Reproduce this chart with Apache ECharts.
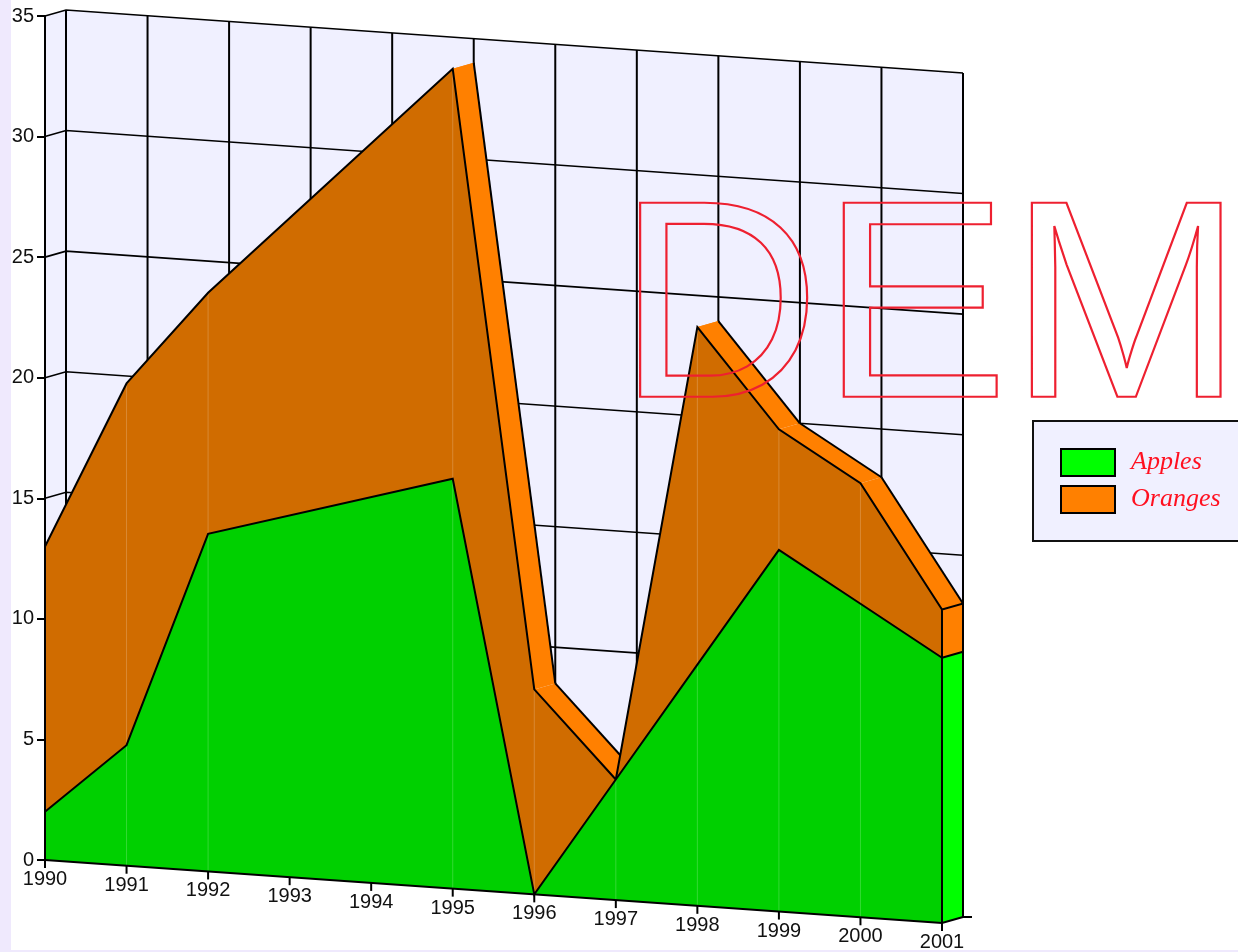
<!DOCTYPE html>
<html>
<head>
<meta charset="utf-8">
<title>Apples and Oranges</title>
<style>
  html, body { margin: 0; padding: 0; background: #ffffff; }
  #chart { width: 1238px; height: 952px; }
</style>
<script src="https://cdn.jsdelivr.net/npm/echarts@6/dist/echarts.min.js"></script>
</head>
<body>
<div id="chart"></div>
<script>
// Sampled years and stacked series values
const years = [1990, 1991, 1992, 1995, 1996, 1997, 1998, 1999, 2000, 2001];
const apples = [2, 5, 14, 17, 0, 5, 10, 15, 13, 11];
const oranges = [11, 15, 10, 17, 8.5, 0, 14, 5, 5, 2];

// Axis ticks
const tickYears = [1990, 1991, 1992, 1993, 1994, 1995, 1996, 1997, 1998, 1999, 2000, 2001];
const tickValues = [0, 5, 10, 15, 20, 25, 30, 35];

// Colours
const WALL = '#f0f0ff';
const BAND = '#efe9fd';
const GREEN_FRONT = '#00d000';
const GREEN_SIDE = '#00ff00';
const ORANGE_FRONT = '#d06c00';
const ORANGE_SIDE = '#ff8000';
const INK = '#000000';
const SEAM = 'rgba(255,255,255,0.2)';

// Oblique projection: the floor slopes down to the right and depth moves up and to the right
const FLOOR_SLOPE = 63 / 897;
const DEPTH_X = 21;
const DEPTH_Y = -6;

function projector(api) {
  const origin = api.coord([tickYears[0], 0]);
  return function (x, y, depth) {
    const p = api.coord([x, y]);
    return [
      p[0] + depth * DEPTH_X,
      p[1] + (p[0] - origin[0]) * FLOOR_SLOPE + depth * DEPTH_Y
    ];
  };
}

function poly(points, fill, z2) {
  return { type: 'polygon', z2: z2 || 0, shape: { points: points }, style: { fill: fill, stroke: null } };
}
function line(points, width, color, z2) {
  return {
    type: 'polyline', z2: z2 || 0, shape: { points: points },
    style: { fill: null, stroke: color || INK, lineWidth: width || 2 }
  };
}

const totals = years.map((_, i) => apples[i] + oranges[i]);
const last = years.length - 1;

// Back and left walls, grid, x ticks and x labels
function renderWalls(params, api) {
  const P = projector(api);
  const x0 = tickYears[0], x1 = tickYears[tickYears.length - 1];
  const top = tickValues[tickValues.length - 1];
  const kids = [
    poly([P(x0, top, 1), P(x1, top, 1), P(x1, 0, 1), P(x0, 0, 1)], WALL),
    poly([P(x0, top, 0), P(x0, top, 1), P(x0, 0, 1), P(x0, 0, 0)], WALL)
  ];
  tickYears.forEach(function (yr) {
    kids.push(line([P(yr, 0, 1), P(yr, top, 1)], 2));
    const foot = P(yr, 0, 0);
    kids.push(line([foot, [foot[0], foot[1] + 8]], 2));
    kids.push({
      type: 'text', z2: 2,
      style: {
        text: String(yr), x: foot[0], y: foot[1] + 19.5, align: 'center', verticalAlign: 'middle',
        font: '20px "Liberation Sans"', fill: '#111111'
      }
    });
  });
  tickValues.forEach(function (v) {
    kids.push(line([P(x0, v, 0), P(x0, v, 1), P(x1, v, 1)], 1.6));
  });
  const corner = P(x1, 0, 1);
  kids.push(line([corner, [corner[0] + 9, corner[1]]], 2));
  return { type: 'group', children: kids };
}

// Oranges: receding top strips, the end face and the front face
function renderOranges(params, api) {
  const P = projector(api);
  const kids = [];
  for (let i = 0; i < last; i++) {
    const a = years[i], b = years[i + 1];
    kids.push(poly([P(a, totals[i], 0), P(a, totals[i], 1), P(b, totals[i + 1], 1), P(b, totals[i + 1], 0)], ORANGE_SIDE));
  }
  for (let i = 0; i < last; i++) {
    if (totals[i + 1] < totals[i]) {
      kids.push(line([P(years[i], totals[i], 1), P(years[i + 1], totals[i + 1], 1)], 2));
    }
  }
  const end = years[last];
  kids.push(poly([P(end, apples[last], 0), P(end, apples[last], 1), P(end, totals[last], 1), P(end, totals[last], 0)], ORANGE_SIDE));
  const upper = years.map((y, i) => P(y, totals[i], 0));
  const lower = years.map((y, i) => P(y, apples[i], 0)).reverse();
  kids.push(poly(upper.concat(lower), ORANGE_FRONT));
  years.forEach(function (y, i) {
    if (i > 0 && i < last) kids.push(line([P(y, apples[i], 0), P(y, totals[i], 0)], 1, SEAM));
  });
  kids.push(line(upper, 2));
  return { type: 'group', children: kids };
}

// Apples: end face, front face and all the outlines that sit in front
function renderApples(params, api) {
  const P = projector(api);
  const kids = [];
  const end = years[last];
  kids.push(poly([P(end, 0, 0), P(end, 0, 1), P(end, apples[last], 1), P(end, apples[last], 0)], GREEN_SIDE));
  const upper = years.map((y, i) => P(y, apples[i], 0));
  kids.push(poly(upper.concat([P(end, 0, 0), P(years[0], 0, 0)]), GREEN_FRONT));
  years.forEach(function (y, i) {
    if (i > 0 && i < last) kids.push(line([P(y, 0, 0), P(y, apples[i], 0)], 1, SEAM));
  });
  kids.push(line(upper, 2));
  kids.push(line([P(years[0], 0, 0), P(end, 0, 0), P(end, 0, 1)], 2));
  kids.push(line([P(end, 0, 0), P(end, totals[last], 0), P(end, totals[last], 1), P(end, 0, 1)], 2));
  kids.push(line([P(end, apples[last], 0), P(end, apples[last], 1)], 2));
  return { type: 'group', children: kids };
}

const chart = echarts.init(document.getElementById('chart'), null, { renderer: 'canvas' });
chart.setOption({
  animation: false,
  backgroundColor: '#ffffff',
  grid: { left: 45, top: 16, width: 897, height: 844, containLabel: false },
  xAxis: { type: 'value', min: 1990, max: 2001, show: false },
  yAxis: {
    type: 'value', min: 0, max: 35, interval: 5, z: 6,
    axisLine: { show: true, onZero: false, lineStyle: { color: INK, width: 2 } },
    axisTick: { show: true, length: 8, lineStyle: { color: INK, width: 2 } },
    axisLabel: { color: '#111111', fontSize: 20, fontFamily: 'Liberation Sans', margin: 11 },
    splitLine: { show: false }
  },
  legend: {
    orient: 'vertical',
    left: 1033,
    top: 421,
    padding: [27, 40, 27, 27],
    itemWidth: 54,
    itemHeight: 27,
    itemGap: 8,
    icon: 'rect',
    backgroundColor: WALL,
    borderColor: '#111111',
    borderWidth: 2,
    borderRadius: 0,
    selectedMode: false,
    textStyle: {
      color: '#ff1020', fontStyle: 'italic', fontSize: 26,
      fontFamily: 'Liberation Serif', padding: [0, 0, 0, 11]
    },
    data: [
      { name: 'Apples', itemStyle: { color: GREEN_SIDE, borderColor: INK, borderWidth: 2 } },
      { name: 'Oranges', itemStyle: { color: ORANGE_SIDE, borderColor: INK, borderWidth: 2 } }
    ]
  },
  graphic: {
    elements: [
      { type: 'rect', z: -10, silent: true, shape: { x: 0, y: 0, width: 11, height: 952 }, style: { fill: BAND } },
      { type: 'rect', z: -10, silent: true, shape: { x: 0, y: 950, width: 1238, height: 2 }, style: { fill: BAND } },
      {
        type: 'text', z: 100, silent: true, x: 617, y: 178,
        style: {
          text: 'DEMO', font: '282px "Liberation Sans"',
          fill: 'transparent', stroke: '#ee2030', lineWidth: 2.2
        }
      }
    ]
  },
  series: [
    { name: 'Walls', type: 'custom', z: 1, silent: true, clip: false, renderItem: renderWalls, data: [[1990, 0]] },
    {
      name: 'Oranges', type: 'custom', z: 2, silent: true, clip: false, renderItem: renderOranges,
      itemStyle: { color: ORANGE_SIDE }, data: [[1990, 0]]
    },
    {
      name: 'Apples', type: 'custom', z: 3, silent: true, clip: false, renderItem: renderApples,
      itemStyle: { color: GREEN_SIDE }, data: [[1990, 0]]
    }
  ]
});
</script>
</body>
</html>
